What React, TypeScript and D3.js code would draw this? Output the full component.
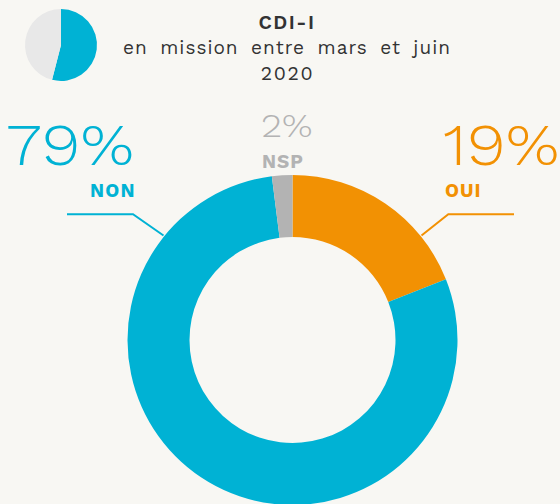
import React from "react";
import * as d3 from "d3";

const categories = ["OUI", "NON", "NSP"];
const values = [19, 79, 2];
const colors = ["#f29103", "#00b2d4", "#b3b3b3"];
const miniValues = [54, 46];
const miniColors = ["#00b2d4", "#e8e8e8"];
const titleLines = ["CDI-I", "en mission entre mars et juin", "2020"];

const W = 560;
const H = 504;
const BG = "#f8f7f3";
const FONT = "'Work Sans', Lato, 'Open Sans', sans-serif";

export default function App() {
  const cx = 292.5;
  const cy = 340;
  const R = 165;
  const r = 103;

  const pie = d3.pie<number>().sort(null).value((d) => d);
  const arcs = pie(values);
  const arc = d3.arc<d3.PieArcDatum<number>>().innerRadius(r).outerRadius(R);

  const miniArcs = pie(miniValues);
  const miniArc = d3.arc<d3.PieArcDatum<number>>().innerRadius(0).outerRadius(36);

  // leader line geometry: anchored on outer rim at ±51°
  const leadAngle = (51 * Math.PI) / 180;
  const rimX = (s: number) => cx + s * (R + 1) * Math.sin(leadAngle);
  const rimY = cy - (R + 1) * Math.cos(leadAngle);

  React.useEffect(() => {
    document.body.style.margin = "0";
    document.body.style.background = BG;
  }, []);

  const SX = 1.14;

  return (
    <svg width={W} height={H} style={{ display: "block", background: BG }}>
      <rect width={W} height={H} fill={BG} />
      <g transform={`translate(61,45)`}>
        {miniArcs.map((a, i) => (
          <path key={i} d={miniArc(a) || ""} fill={miniColors[i]} />
        ))}
      </g>
      <g fill="#333" fontFamily={FONT} textAnchor="middle">
        <text x={287} y={29} fontSize={19.5} fontWeight={600} letterSpacing={1.5}>{titleLines[0]}</text>
        <text x={287} y={54} fontSize={19} wordSpacing={5} letterSpacing={1}>{titleLines[1]}</text>
        <text x={287.5} y={80} fontSize={19.5} letterSpacing={1.6}>{titleLines[2]}</text>
      </g>
      <g transform={`translate(${cx},${cy})`}>
        {arcs.map((a, i) => (
          <path key={i} d={arc(a) || ""} fill={colors[i]} />
        ))}
      </g>
      {/* NON leader */}
      <polyline
        points={`67,214.3 133,214.3 ${rimX(-1)},${rimY}`}
        fill="none"
        stroke={colors[1]}
        strokeWidth={2}
      />
      {/* OUI leader */}
      <polyline
        points={`514,214.3 448.3,214.3 ${rimX(1)},${rimY}`}
        fill="none"
        stroke={colors[0]}
        strokeWidth={2}
      />
      <g fontFamily={FONT}>
        <text transform={`translate(134,165) scale(${SX},1)`} fontSize={58} fontWeight={300} fill={colors[1]} textAnchor="end">
          {values[1]}%
        </text>
        <text x={136} y={197} fontSize={19} fontWeight={700} fill={colors[1]} textAnchor="end" letterSpacing={1.3}>
          {categories[1]}
        </text>
        <text transform={`translate(443,165) scale(${SX},1)`} fontSize={58} fontWeight={300} fill={colors[0]}>
          {values[0]}%
        </text>
        <text x={445} y={197} fontSize={19} fontWeight={700} fill={colors[0]} letterSpacing={1}>
          {categories[0]}
        </text>
        <text transform={`translate(261,137) scale(${SX},1)`} fontSize={33} fontWeight={300} fill={colors[2]}>
          {values[2]}%
        </text>
        <text x={262} y={168} fontSize={19} fontWeight={700} fill={colors[2]} letterSpacing={1}>
          {categories[2]}
        </text>
      </g>
    </svg>
  );
}
